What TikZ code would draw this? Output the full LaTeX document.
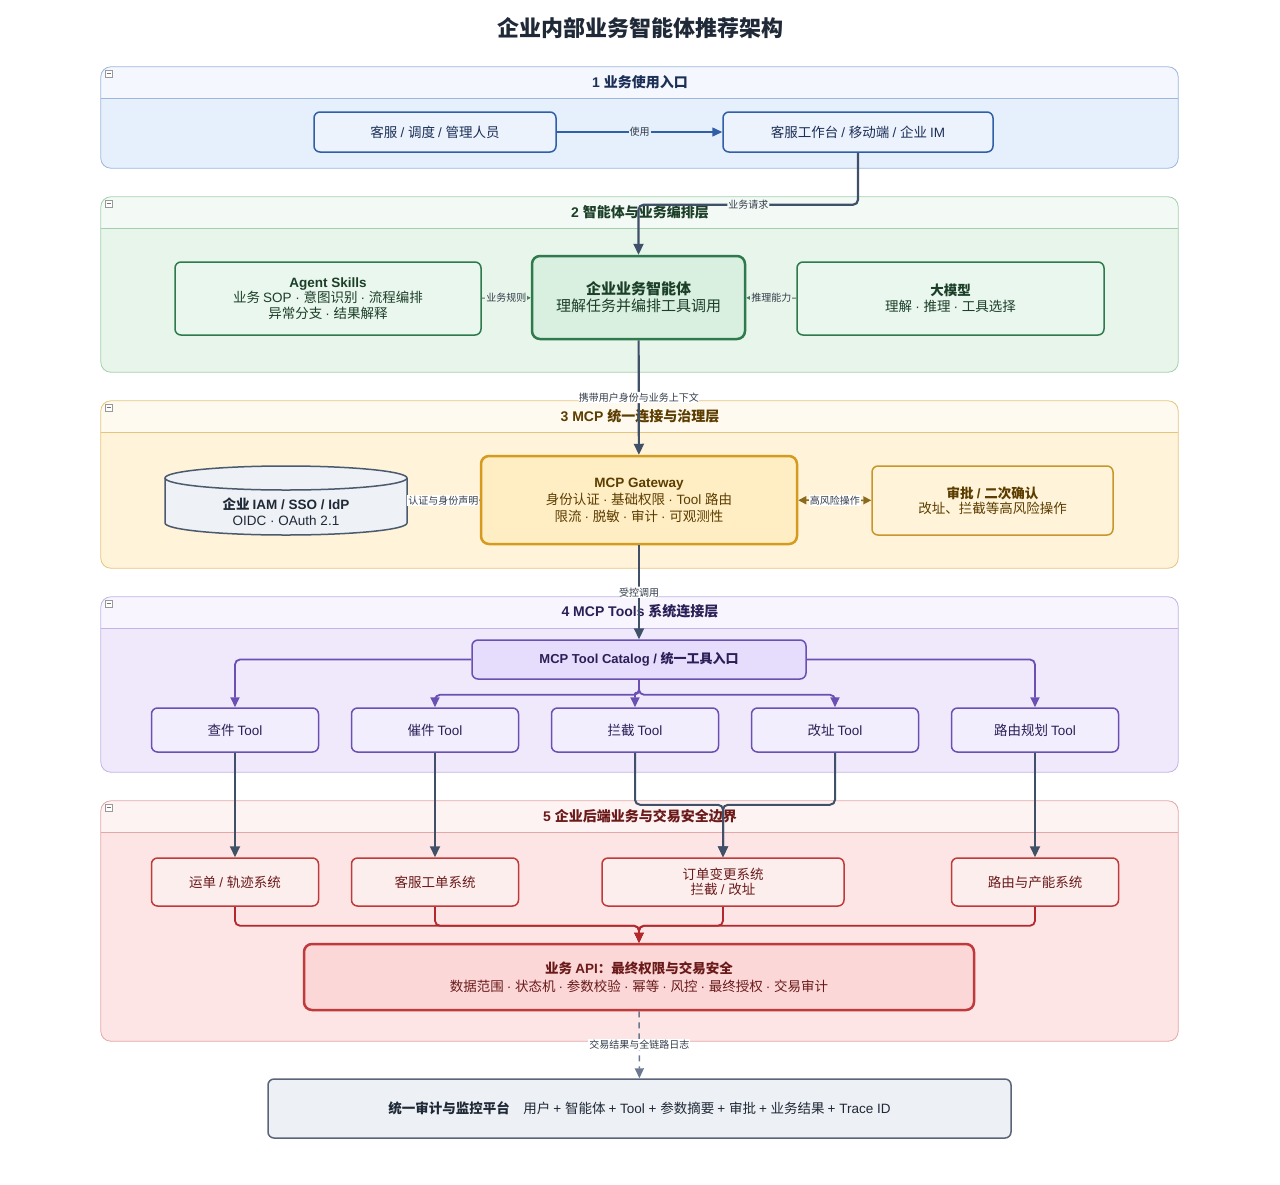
\documentclass[tikz,border=0pt]{standalone}
\usepackage{fontspec}
\setmainfont{Liberation Sans}
\newfontfamily\cjkfont{Noto Sans CJK SC}
\usepackage{xcolor}
\usepackage{tikz}
\usetikzlibrary{positioning,arrows.meta}

\newcount\cjkcount
\cjkcount="2E80 \loop \XeTeXcharclass\cjkcount=7 \advance\cjkcount by 1 \ifnum\cjkcount<"A000 \repeat
\cjkcount="FF00 \loop \XeTeXcharclass\cjkcount=7 \advance\cjkcount by 1 \ifnum\cjkcount<"FFF0 \repeat
\XeTeXinterchartokenstate=1
\XeTeXinterchartoks 0 7 = {\cjkfont}
\XeTeXinterchartoks 255 7 = {\cjkfont}
\XeTeXinterchartoks 4095 7 = {\cjkfont}
\XeTeXinterchartoks 7 0 = {\rmfamily}
\XeTeXinterchartoks 255 0 = {\rmfamily}
\XeTeXinterchartoks 4095 0 = {\rmfamily}

\definecolor{titlec}{HTML}{1F2937}
\definecolor{lbltext}{HTML}{333D4B}
\definecolor{flowc}{HTML}{3F5068}
\definecolor{oneb}{HTML}{E6EFFC}\definecolor{oneh}{HTML}{F4F8FE}\definecolor{onel}{HTML}{9DB6DC}
\definecolor{onen}{HTML}{EDF3FD}\definecolor{oned}{HTML}{2F5FA6}\definecolor{onet}{HTML}{1B2F57}
\definecolor{twob}{HTML}{E7F5EA}\definecolor{twoh}{HTML}{F3FAF5}\definecolor{twol}{HTML}{A3CFAE}
\definecolor{twon}{HTML}{EAF7EE}\definecolor{twod}{HTML}{2E7A4D}\definecolor{twoc}{HTML}{D9F0E0}\definecolor{twot}{HTML}{1C3F28}
\definecolor{threeb}{HTML}{FFF3D9}\definecolor{threeh}{HTML}{FFFAF0}\definecolor{threel}{HTML}{E5C57E}
\definecolor{threen}{HTML}{FFF4D9}\definecolor{threed}{HTML}{C8962A}\definecolor{threeg}{HTML}{D49B1E}\definecolor{threec}{HTML}{FFEEC4}\definecolor{threet}{HTML}{5C3D00}
\definecolor{threea}{HTML}{8A6A1C}
\definecolor{iamf}{HTML}{EEF1F5}\definecolor{iamd}{HTML}{4B5A6E}
\definecolor{fourb}{HTML}{EFE9FB}\definecolor{fourh}{HTML}{F8F5FE}\definecolor{fourl}{HTML}{C2B3E6}
\definecolor{fourn}{HTML}{F3EEFD}\definecolor{fourd}{HTML}{6A50B2}\definecolor{fourc}{HTML}{E6DCFB}\definecolor{fourt}{HTML}{2B1F57}
\definecolor{fiveb}{HTML}{FDE5E5}\definecolor{fiveh}{HTML}{FEF3F3}\definecolor{fivel}{HTML}{E4A6A6}
\definecolor{fiven}{HTML}{FDEEEE}\definecolor{fived}{HTML}{C0393B}\definecolor{fivec}{HTML}{FBD7D7}\definecolor{fivet}{HTML}{6B1A1A}
\definecolor{fivea}{HTML}{B3282D}
\definecolor{auditf}{HTML}{EDF0F4}\definecolor{auditd}{HTML}{5A6577}\definecolor{dashc}{HTML}{6B7890}

\begin{document}
\begin{tikzpicture}[x=1pt, y=-1pt, >={Triangle[length=11pt,width=10pt]},
  lane/.style={rectangle, rounded corners=10pt, inner sep=0pt},
  lanetitle/.style={font=\bfseries\fontsize{14}{16}\selectfont},
  minusbox/.style={draw=gray!80, fill=white, line width=0.5pt, minimum size=7, inner sep=0pt, path picture={\draw[gray!90!black, line width=0.8pt] ([xshift=1.5pt]path picture bounding box.west) -- ([xshift=-1.5pt]path picture bounding box.east);}},
  box/.style={rectangle, rounded corners=6pt, draw, line width=1.5pt, align=center, inner sep=0pt, font=\fontsize{13.5}{15.5}\selectfont},
  bigbox/.style={box, line width=2.5pt, rounded corners=8pt, font=\fontsize{15}{17}\selectfont},
  lbl/.style={font=\fontsize{10}{12}\selectfont, text=lbltext, fill=white, inner sep=1pt},
  flow/.style={draw=flowc, line width=2.2pt, rounded corners=5pt},
  toolflow/.style={draw=fourd, line width=1.8pt, rounded corners=5pt, >={Triangle[length=10pt,width=9pt]}},
  apiflow/.style={draw=fivea, line width=1.8pt, rounded corners=5pt, >={Triangle[length=10pt,width=9pt]}},
  thin/.style={line width=1pt, >={Triangle[length=4pt,width=4pt]}}]

\useasboundingbox (0,0) rectangle (1280,1184);

\node[font=\bfseries\fontsize{22}{26}\selectfont, text=titlec] at (640,28) (title) {企业内部业务智能体推荐架构};

\node[lane, fill=oneb, minimum width=1077, minimum height=101] at (639.5,117.5) (lane1) {};
\begin{scope}\clip[rounded corners=10pt] (lane1.north west) rectangle (lane1.south east); \fill[oneh] (lane1.north west) rectangle (1178,98); \end{scope}
\draw[onel, line width=0.8pt] (101,98) -- (1178,98);
\draw[onel, line width=0.8pt, rounded corners=10pt] (lane1.north west) rectangle (lane1.south east);
\node[minusbox] at (108.5,73.5) (m1) {};
\node[lanetitle, text=onet] at (640,82) (lt1) {1 业务使用入口};

\node[lane, fill=twob, minimum width=1077, minimum height=175] at (639.5,284.5) (lane2) {};
\begin{scope}\clip[rounded corners=10pt] (lane2.north west) rectangle (lane2.south east); \fill[twoh] (lane2.north west) rectangle (1178,228); \end{scope}
\draw[twol, line width=0.8pt] (101,228) -- (1178,228);
\draw[twol, line width=0.8pt, rounded corners=10pt] (lane2.north west) rectangle (lane2.south east);
\node[minusbox] at (108.5,203.5) (m2) {};
\node[lanetitle, text=twot] at (640,212) (lt2) {2 智能体与业务编排层};

\node[lane, fill=threeb, minimum width=1077, minimum height=167] at (639.5,484.5) (lane3) {};
\begin{scope}\clip[rounded corners=10pt] (lane3.north west) rectangle (lane3.south east); \fill[threeh] (lane3.north west) rectangle (1178,432); \end{scope}
\draw[threel, line width=0.8pt] (101,432) -- (1178,432);
\draw[threel, line width=0.8pt, rounded corners=10pt] (lane3.north west) rectangle (lane3.south east);
\node[minusbox] at (108.5,407.5) (m3) {};
\node[lanetitle, text=threet] at (640,416) (lt3) {3 MCP 统一连接与治理层};

\node[lane, fill=fourb, minimum width=1077, minimum height=175] at (639.5,684.5) (lane4) {};
\begin{scope}\clip[rounded corners=10pt] (lane4.north west) rectangle (lane4.south east); \fill[fourh] (lane4.north west) rectangle (1178,628); \end{scope}
\draw[fourl, line width=0.8pt] (101,628) -- (1178,628);
\draw[fourl, line width=0.8pt, rounded corners=10pt] (lane4.north west) rectangle (lane4.south east);
\node[minusbox] at (108.5,603.5) (m4) {};
\node[lanetitle, text=fourt] at (640,611) (lt4) {4 MCP Tools 系统连接层};

\node[lane, fill=fiveb, minimum width=1077, minimum height=240] at (639.5,921) (lane5) {};
\begin{scope}\clip[rounded corners=10pt] (lane5.north west) rectangle (lane5.south east); \fill[fiveh] (lane5.north west) rectangle (1178,832); \end{scope}
\draw[fivel, line width=0.8pt] (101,832) -- (1178,832);
\draw[fivel, line width=0.8pt, rounded corners=10pt] (lane5.north west) rectangle (lane5.south east);
\node[minusbox] at (108.5,807.5) (m5) {};
\node[lanetitle, text=fivet] at (640,816) (lt5) {5 企业后端业务与交易安全边界};

\node[box, fill=onen, draw=oned, text=onet, minimum width=242, minimum height=40] at (435,132) (user) {客服 / 调度 / 管理人员};
\node[box, fill=onen, draw=oned, text=onet, minimum width=270, minimum height=40] at (858,132) (desk) {客服工作台 / 移动端 / 企业 IM};
\draw[draw=oned, line width=1.5pt, ->, >={Triangle[length=10pt,width=9pt]}] (user) -- (desk) node[midway, lbl, fill=oneb] {使用};

\node[box, fill=twon, draw=twod, text=twot, minimum width=306, minimum height=73] at (328,298.5) (skills) {\textbf{Agent Skills}\\业务 SOP · 意图识别 · 流程编排\\异常分支 · 结果解释};
\node[bigbox, fill=twoc, draw=twod, text=twot, minimum width=213, minimum height=83] at (638.5,297.5) (agent) {\textbf{企业业务智能体}\\理解任务并编排工具调用};
\node[box, fill=twon, draw=twod, text=twot, minimum width=307, minimum height=73] at (950.5,298.5) (llm) {\textbf{大模型}\\理解 · 推理 · 工具选择};
\draw[twod!70!gray, thin, ->] (skills) -- (agent) node[midway, lbl, fill=twob] {业务规则};
\draw[twod!70!gray, thin, ->] (llm) -- (agent) node[midway, lbl, fill=twob] {推理能力};
\draw[flow, ->] (desk.south) -- ++(0,52) -| (agent.north) node[pos=0.25, lbl, fill=twoh] {业务请求};

\node[minimum width=242, minimum height=69, inner sep=0pt] at (286,500.5) (iam) {};
\fill[iamf] (165,478) -- (165,523) arc[start angle=180, end angle=360, x radius=121pt, y radius=12pt] -- (407,478) arc[start angle=0, end angle=180, x radius=121pt, y radius=12pt] -- cycle;
\draw[iamd, line width=1.5pt] (165,478) -- (165,523) arc[start angle=180, end angle=360, x radius=121pt, y radius=12pt] -- (407,478);
\draw[iamd, fill=iamf, line width=1.5pt] (286,478) ellipse[x radius=121pt, y radius=12pt];
\node[align=center, text=titlec, font=\fontsize{13.5}{16}\selectfont] at (286,512) (iamtxt) {\textbf{企业 IAM / SSO / IdP}\\OIDC · OAuth 2.1};
\node[bigbox, fill=threec, draw=threeg, text=threet, font=\fontsize{13.5}{17}\selectfont, minimum width=316, minimum height=88] at (639,500) (gw) {\textbf{MCP Gateway}\\身份认证 · 基础权限 · Tool 路由\\限流 · 脱敏 · 审计 · 可观测性};
\node[box, fill=threen, draw=threed, text=threet, minimum width=241, minimum height=69] at (992.5,500.5) (appr) {\textbf{审批 / 二次确认}\\改址、拦截等高风险操作};
\draw[iamd, line width=1pt] (iam.east) -- (gw.west) node[midway, lbl] {认证与身份声明};
\draw[threea, line width=1.5pt, <->, >={Triangle[length=8pt,width=8pt]}] (gw) -- (appr) node[midway, lbl] {高风险操作};
\draw[flow, ->] (agent) -- (gw) node[pos=0.5, lbl] {携带用户身份与业务上下文};

\node[box, fill=fourc, draw=fourd, text=fourt, font=\bfseries\fontsize{13}{15}\selectfont, minimum width=334, minimum height=39] at (639,659.5) (cat) {MCP Tool Catalog / 统一工具入口};
\node[box, fill=fourn, draw=fourd, text=fourt, minimum width=167, minimum height=44] at (235,730) (t1) {查件 Tool};
\node[box, fill=fourn, draw=fourd, text=fourt, minimum width=167, minimum height=44] at (435,730) (t2) {催件 Tool};
\node[box, fill=fourn, draw=fourd, text=fourt, minimum width=167, minimum height=44] at (635,730) (t3) {拦截 Tool};
\node[box, fill=fourn, draw=fourd, text=fourt, minimum width=167, minimum height=44] at (835,730) (t4) {改址 Tool};
\node[box, fill=fourn, draw=fourd, text=fourt, minimum width=167, minimum height=44] at (1035,730) (t5) {路由规划 Tool};
\draw[flow, ->] (gw) -- (cat) node[pos=0.5, lbl] {受控调用};
\draw[toolflow, ->] (cat.west) -| (t1.north);
\draw[toolflow, ->] (cat.east) -| (t5.north);
\draw[toolflow, ->] (cat.south) -- ++(0,15) -| (t2.north);
\draw[toolflow, ->] (cat.south) -- ++(0,15) -| (t4.north);
\draw[toolflow, rounded corners=1pt, ->] (cat.south) -- ++(0,13) -| (t3.north);

\node[box, fill=fiven, draw=fived, text=fivet, minimum width=167, minimum height=48] at (235,882) (s1) {运单 / 轨迹系统};
\node[box, fill=fiven, draw=fived, text=fivet, minimum width=167, minimum height=48] at (435,882) (s2) {客服工单系统};
\node[box, fill=fiven, draw=fived, text=fivet, minimum width=242, minimum height=48] at (723,882) (s3) {订单变更系统\\拦截 / 改址};
\node[box, fill=fiven, draw=fived, text=fivet, minimum width=167, minimum height=48] at (1035,882) (s4) {路由与产能系统};
\draw[flow, line width=2pt, ->] (t1) -- (s1);
\draw[flow, line width=2pt, ->] (t2) -- (s2);
\draw[flow, line width=2pt, ->] (t3.south) -- ++(0,52) -| (s3.north);
\draw[flow, line width=2pt, ->] (t4.south) -- ++(0,52) -| (s3.north);
\draw[flow, line width=2pt, ->] (t5) -- (s4);

\node[bigbox, fill=fivec, draw=fived, text=fivet, font=\fontsize{13.5}{18}\selectfont, minimum width=670, minimum height=66] at (639,977) (api) {\textbf{业务 API：最终权限与交易安全}\\数据范围 · 状态机 · 参数校验 · 幂等 · 风控 · 最终授权 · 交易审计};
\draw[apiflow, ->] (s1.south) -- ++(0,19) -| (api.north);
\draw[apiflow, ->] (s2.south) -- ++(0,19) -| (api.north);
\draw[apiflow, ->] (s3.south) -- ++(0,19) -| (api.north);
\draw[apiflow, ->] (s4.south) -- ++(0,19) -| (api.north);

\node[box, fill=auditf, draw=auditd, text=titlec, minimum width=743, minimum height=59] at (639.5,1108.5) (audit) {\textbf{统一审计与监控平台}\quad 用户 + 智能体 + Tool + 参数摘要 + 审批 + 业务结果 + Trace ID};
\draw[dashc, line width=1.5pt, dash pattern=on 6pt off 5pt, ->, >={Triangle[length=10pt,width=9pt]}] (api) -- (audit) node[midway, lbl] {交易结果与全链路日志};

\end{tikzpicture}
\end{document}
